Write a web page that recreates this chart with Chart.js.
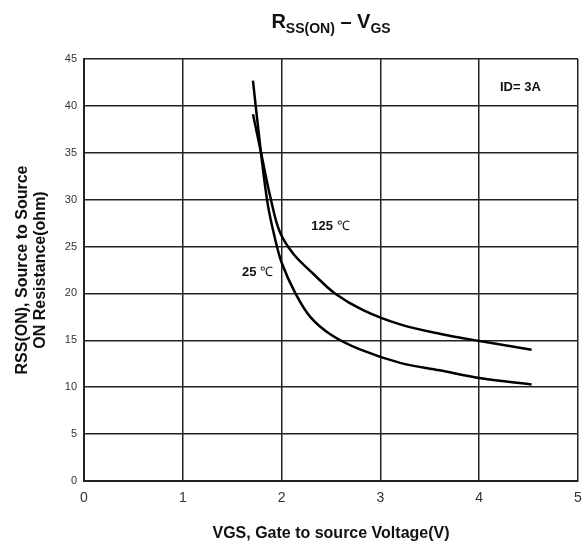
<!DOCTYPE html>
<html lang="en">
<head>
<meta charset="UTF-8">
<title>RSS(ON) - VGS</title>
<style>
  body { margin: 0; background: #fff; }
</style>
</head>
<body>
<canvas id="chartJSContainer" width="585" height="552"></canvas>
<script src="https://cdnjs.cloudflare.com/ajax/libs/Chart.js/4.4.0/chart.umd.js"></script>
<script>
// data
var vgs25 = [1.71, 1.79, 1.86, 1.93, 2.0, 2.14, 2.29, 2.5, 2.8, 3.2, 3.6, 4.02, 4.53];
var rds25 = [42.7, 35.1, 29.5, 26.0, 23.3, 20.0, 17.5, 15.6, 14.0, 12.6, 11.8, 10.95, 10.3];
var vgs125 = [1.71, 1.79, 1.89, 1.98, 2.12, 2.32, 2.54, 2.83, 3.2, 3.6, 4.02, 4.53];
var rds125 = [39.1, 35.1, 30.1, 26.6, 24.2, 22.1, 20.0, 18.2, 16.7, 15.7, 14.9, 14.0];
var xTicks = [0, 1, 2, 3, 4, 5];
var yTicks = [0, 5, 10, 15, 20, 25, 30, 35, 40, 45];

var FONT = "'Liberation Sans', Arial, sans-serif";

function pts(xs, ys) {
  return xs.map(function (x, i) { return { x: x, y: ys[i] }; });
}

// text drawn on top of the plot (title with subscripts, curve labels)
var notes = [
  { x: 4.21, y: 42.0, parts: [['ID= 3A', 'bold 13px']] },
  { x: 2.30, y: 27.1, parts: [['125 ', 'bold 13px'], ['\u2103', '13px']] },
  { x: 1.60, y: 22.2, parts: [['25 ', 'bold 13px'], ['\u2103', '13px']] }
];

function drawParts(ctx, parts, x, y) {
  parts.forEach(function (p) {
    ctx.font = p[1] + ' ' + FONT;
    ctx.fillText(p[0], x, y + (p[2] || 0));
    x += ctx.measureText(p[0]).width;
  });
}

var textPlugin = {
  id: 'textPlugin',
  afterDraw: function (chart) {
    var ctx = chart.ctx;
    var xs = chart.scales.x, ys = chart.scales.y;
    ctx.save();
    ctx.fillStyle = '#111';
    ctx.textBaseline = 'middle';
    ctx.textAlign = 'left';
    notes.forEach(function (n) {
      drawParts(ctx, n.parts, xs.getPixelForValue(n.x), ys.getPixelForValue(n.y));
    });

    // title
    var title = [['R', 'bold 20px', 0], ['SS(ON)', 'bold 14px', 5], [' \u2013 ', 'bold 20px', 0], ['V', 'bold 20px', 0], ['GS', 'bold 14px', 5]];
    var w = 0;
    title.forEach(function (p) { ctx.font = p[1] + ' ' + FONT; w += ctx.measureText(p[0]).width; });
    var cx = (chart.chartArea.left + chart.chartArea.right) / 2;
    ctx.textBaseline = 'alphabetic';
    drawParts(ctx, title, cx - w / 2, 28);
    ctx.restore();
  }
};

var options = {
  type: 'line',
  data: {
    datasets: [{
        label: '25 \u2103',
        data: pts(vgs25, rds25),
        borderColor: '#000',
        borderWidth: 2.5,
        pointRadius: 0,
        tension: 0.35,
        fill: false
      },
      {
        label: '125 \u2103',
        data: pts(vgs125, rds125),
        borderColor: '#000',
        borderWidth: 2.5,
        pointRadius: 0,
        tension: 0.35,
        fill: false
      }
    ]
  },
  options: {
    responsive: false,
    animation: false,
    layout: { padding: { top: 59, right: 7, left: 0, bottom: 0 } },
    plugins: {
      legend: { display: false },
      tooltip: { enabled: false }
    },
    scales: {
      x: {
        type: 'linear',
        min: 0,
        max: 5,
        afterBuildTicks: function (s) { s.ticks = xTicks.map(function (v) { return { value: v }; }); },
        afterFit: function (s) { s.height = 71; s.paddingLeft = 0; s.paddingRight = 0; },
        grid: { color: '#222', lineWidth: 1.5, drawTicks: false },
        border: { color: '#222', width: 2 },
        ticks: { color: '#333', padding: 9, font: { family: FONT, size: 14 } },
        title: {
          display: true,
          text: 'VGS, Gate to source Voltage(V)',
          color: '#111',
          font: { family: FONT, size: 16, weight: 'bold' },
          padding: { top: 0, bottom: 9 }
        }
      },
      y: {
        min: 0,
        max: 45,
        afterBuildTicks: function (s) { s.ticks = yTicks.map(function (v) { return { value: v }; }); },
        afterFit: function (s) { s.width = 84; s.paddingTop = 0; s.paddingBottom = 0; },
        grid: { color: '#222', lineWidth: 1.5, drawTicks: false },
        border: { color: '#222', width: 2 },
        ticks: { color: '#333', padding: 7, font: { family: FONT, size: 11 } },
        title: {
          display: true,
          text: ['RSS(ON), Source to Source', 'ON Resistance(ohm)'],
          color: '#111',
          font: { family: FONT, size: 16, weight: 'bold', lineHeight: 1.1 },
          padding: { top: 14, bottom: 0 }
        }
      }
    }
  },
  plugins: [{
    id: 'whiteBg',
    beforeDraw: function (chart) {
      var ctx = chart.ctx;
      ctx.save();
      ctx.fillStyle = '#fff';
      ctx.fillRect(0, 0, chart.width, chart.height);
      ctx.restore();
    }
  }, textPlugin]
};

var ctx = document.getElementById('chartJSContainer').getContext('2d');
new Chart(ctx, options);
</script>
</body>
</html>
